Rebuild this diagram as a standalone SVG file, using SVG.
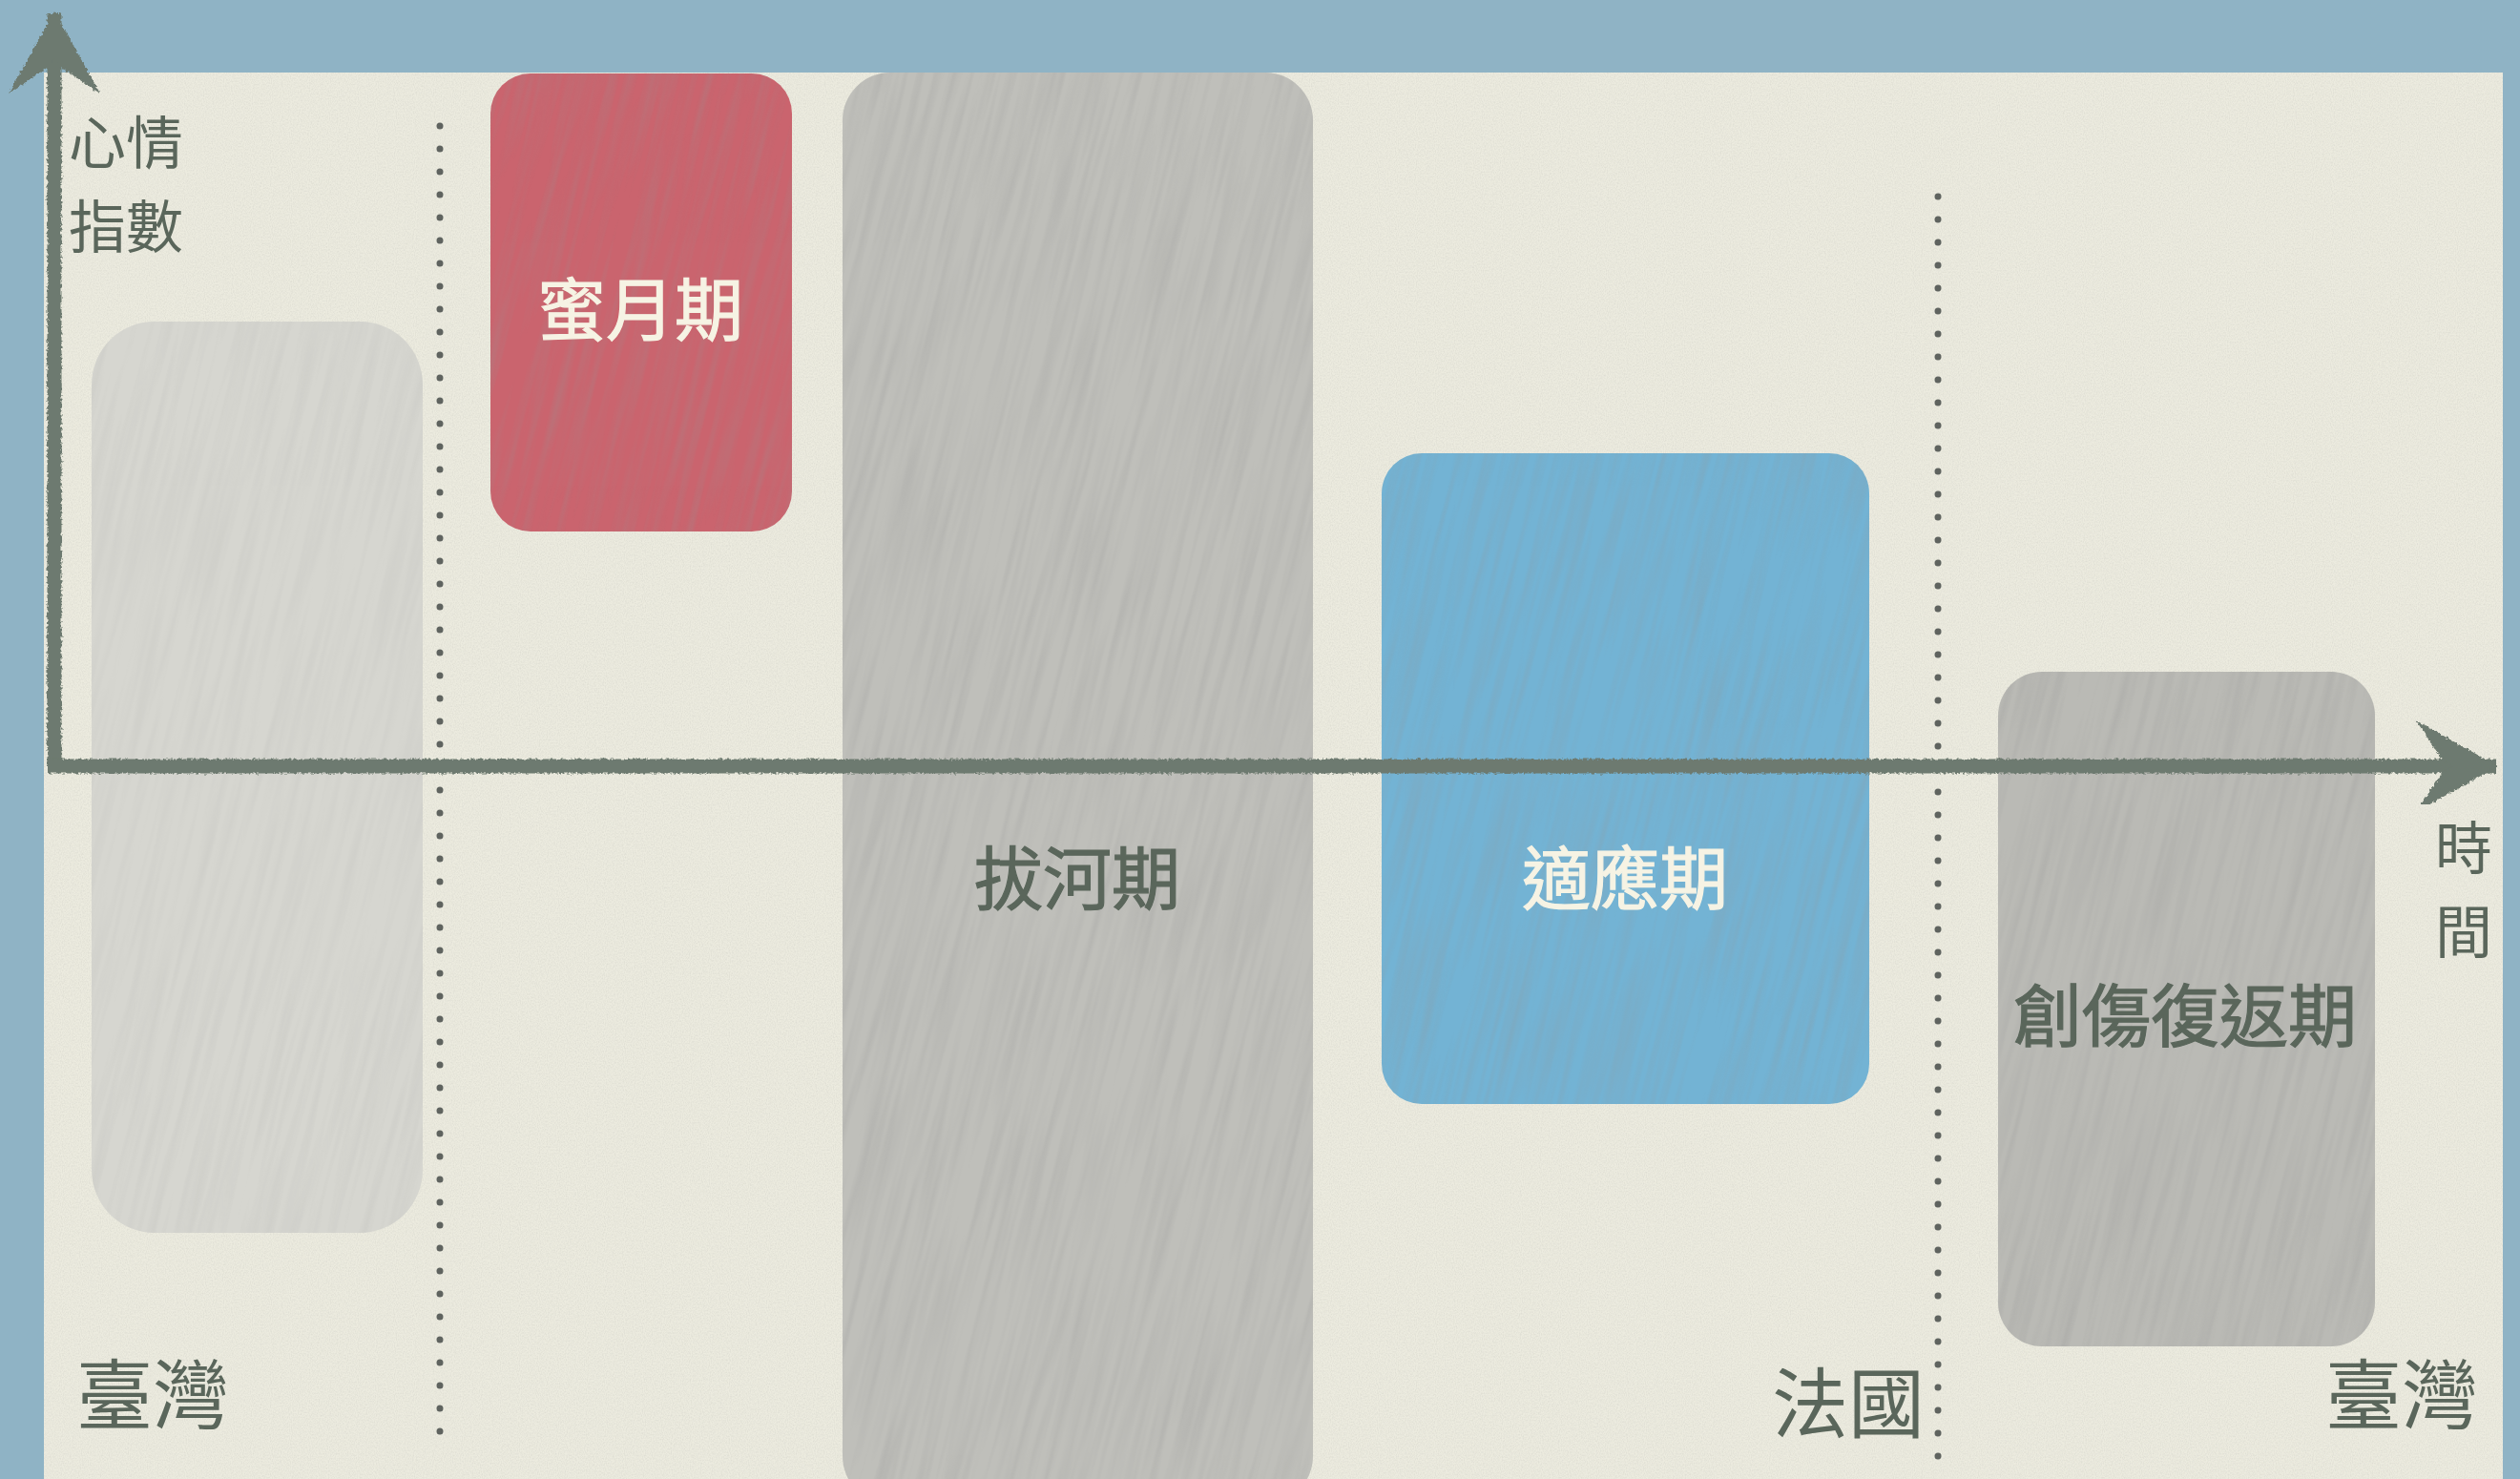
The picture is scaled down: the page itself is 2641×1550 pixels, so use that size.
<svg xmlns="http://www.w3.org/2000/svg" width="2641" height="1550" viewBox="0 0 2641 1550">
  <style>
    .lbl { font-family: "Noto Sans CJK TC", "Noto Sans CJK SC", sans-serif; fill: #5a665b; }
    .ax { font-size: 60px; }
    .place { font-size: 80px; }
    .phase { font-size: 72px; text-anchor: middle; stroke: #5a665b; stroke-width: 1.2; }
    .light { fill: #f6f3e4; stroke: #f6f3e4; }
    .axis { stroke: #6d7a6f; stroke-width: 15; fill: none; stroke-linecap: butt; }
    .dots { stroke: #5f635f; stroke-width: 7; stroke-linecap: round; stroke-dasharray: 0 24; fill: none; }
    .tex { opacity: 0.35; }
  </style>
  <defs>
    <marker id="arrow" markerUnits="userSpaceOnUse" viewBox="0 0 90 100" markerWidth="90" markerHeight="100" refX="86" refY="50" orient="auto">
      <path d="M88,50 L2,2 L30,44 L40,50 L30,56 L2,98 Z" fill="#6d7a6f"/>
    </marker>
    <filter id="rough" x="-5%" y="-5%" width="110%" height="110%">
      <feTurbulence type="fractalNoise" baseFrequency="0.35" numOctaves="2" seed="3" result="n"/>
      <feDisplacementMap in="SourceGraphic" in2="n" scale="5" xChannelSelector="R" yChannelSelector="G"/>
    </filter>
    <filter id="grain" x="0" y="0" width="100%" height="100%">
      <feTurbulence type="fractalNoise" baseFrequency="0.9 0.6" numOctaves="2" seed="7"/>
      <feColorMatrix type="matrix" values="0 0 0 0 0.45  0 0 0 0 0.45  0 0 0 0 0.42  0 0 0 -1.6 1.05"/>
    </filter>
    <filter id="streak" x="0" y="0" width="100%" height="100%">
      <feTurbulence type="fractalNoise" baseFrequency="0.12 0.006" numOctaves="2" seed="11"/>
      <feColorMatrix type="matrix" values="0 0 0 0 0.3  0 0 0 0 0.3  0 0 0 0 0.3  0 0 0 -1.4 0.85"/>
    </filter>
    <clipPath id="c-honey"><rect x="514" y="77" width="316" height="480" rx="42"/></clipPath>
    <clipPath id="c-tug"><rect x="883" y="76" width="493" height="1500" rx="50"/></clipPath>
    <clipPath id="c-adapt"><rect x="1448" y="475" width="511" height="682" rx="42"/></clipPath>
    <clipPath id="c-rev"><rect x="2094" y="704" width="395" height="707" rx="46"/></clipPath>
    <clipPath id="c-tw"><rect x="96" y="337" width="347" height="955" rx="66"/></clipPath>
  </defs>

  <!-- background -->
  <rect x="0" y="0" width="2641" height="1550" fill="#8fb3c5"/>
  <rect x="46" y="76" width="2577" height="1480" fill="#ecebdf"/>
  <rect x="46" y="76" width="2577" height="1480" filter="url(#grain)" opacity="0.25"/>

  <!-- dotted separators -->
  <g id="separators">
    <line class="dots" x1="461" y1="132" x2="461" y2="1502"/>
    <line class="dots" x1="2031" y1="206" x2="2031" y2="1550"/>
  </g>

  <g id="node-taiwan-start">
    <rect x="96" y="337" width="347" height="955" rx="66" fill="#d6d6d0"/>
    <g clip-path="url(#c-tw)" opacity="0.15"><rect x="-100" y="200" width="700" height="1250" filter="url(#streak)" transform="rotate(14 270 815)"/></g>
  </g>
  <g id="node-honeymoon">
    <rect x="514" y="77" width="316" height="480" rx="42" fill="#ca646e"/>
    <g clip-path="url(#c-honey)" class="tex"><rect x="350" y="-50" width="650" height="750" filter="url(#streak)" transform="rotate(14 672 317)"/></g>
    <text class="lbl phase light" x="671" y="351">蜜月期</text>
  </g>
  <g id="node-tugofwar">
    <rect x="883" y="76" width="493" height="1500" rx="50" fill="#bfbfba"/>
    <g clip-path="url(#c-tug)" class="tex"><rect x="600" y="-100" width="1060" height="1800" filter="url(#streak)" transform="rotate(14 1130 800)"/></g>
    <text class="lbl phase" x="1129" y="947">拔河期</text>
  </g>
  <g id="node-adaptation">
    <rect x="1448" y="475" width="511" height="682" rx="42" fill="#73b3d4"/>
    <g clip-path="url(#c-adapt)" class="tex"><rect x="1250" y="350" width="910" height="930" filter="url(#streak)" transform="rotate(14 1703 816)"/></g>
    <text class="lbl phase light" x="1703" y="947">適應期</text>
  </g>
  <g id="node-reverse-shock">
    <rect x="2094" y="704" width="395" height="707" rx="46" fill="#babab5"/>
    <g clip-path="url(#c-rev)" class="tex"><rect x="1900" y="580" width="780" height="960" filter="url(#streak)" transform="rotate(14 2291 1057)"/></g>
    <text class="lbl phase" x="2290" y="1091">創傷復返期</text>
  </g>

  <!-- connectors: axes -->
  <g id="connectors" filter="url(#rough)">
    <path class="axis" d="M57,803 L57,14" marker-end="url(#arrow)"/>
    <path class="axis" d="M50,803 L2616,803" marker-end="url(#arrow)"/>
  </g>

  <!-- axis labels -->
  <g id="axis-labels">
    <text class="lbl ax" x="72" y="172">心情</text>
    <text class="lbl ax" x="72" y="260">指數</text>
    <text class="lbl ax" x="2582" y="911" text-anchor="middle">時</text>
    <text class="lbl ax" x="2582" y="999" text-anchor="middle">間</text>
  </g>

  <!-- place labels -->
  <g id="places">
    <text class="lbl place" x="80" y="1491">臺灣</text>
    <text class="lbl place" x="1857" y="1500">法國</text>
    <text class="lbl place" x="2437" y="1491">臺灣</text>
  </g>
</svg>
